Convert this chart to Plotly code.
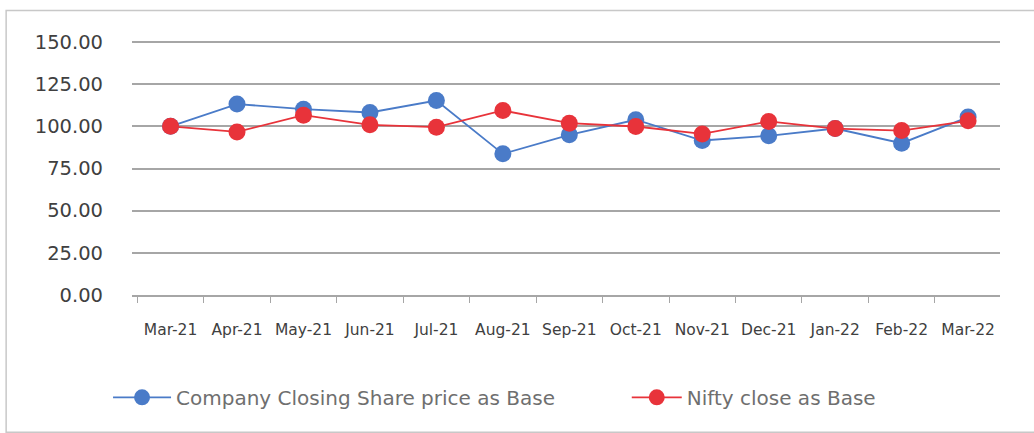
import plotly.graph_objects as go

months = ["Mar-21", "Apr-21", "May-21", "Jun-21", "Jul-21", "Aug-21", "Sep-21",
          "Oct-21", "Nov-21", "Dec-21", "Jan-22", "Feb-22", "Mar-22"]
company = [100.0, 113.2, 110.2, 108.2, 115.3, 83.7, 95.0, 103.9, 91.6, 94.4, 98.7, 90.0, 105.5]
nifty = [100.0, 96.7, 106.6, 100.9, 99.5, 109.4, 101.9, 99.9, 95.5, 102.9, 98.7, 97.5, 103.3]
y_ticks = [0, 25, 50, 75, 100, 125, 150]

BLUE = "#4a7bc8"
RED = "#e8333a"
FONT = "'DejaVu Sans', sans-serif"

fig = go.Figure()
fig.add_trace(go.Scatter(x=months, y=company, mode="lines+markers",
                         name="Company Closing Share price as Base",
                         line=dict(color=BLUE, width=1.8),
                         marker=dict(color=BLUE, size=17), legend="legend"))
fig.add_trace(go.Scatter(x=months, y=nifty, mode="lines+markers",
                         name="Nifty close as Base",
                         line=dict(color=RED, width=1.8),
                         marker=dict(color=RED, size=17), legend="legend2"))

legend_common = dict(orientation="h", xanchor="left", y=-0.403, yanchor="middle",
                     font=dict(size=20, color="#6f6f6f"),
                     bgcolor="rgba(0,0,0,0)", borderwidth=0)

fig.update_layout(
    width=1034, height=433,
    margin=dict(l=132, r=34, t=41, b=138),
    paper_bgcolor="white", plot_bgcolor="white",
    font=dict(family=FONT, color="#404040"),
    showlegend=True,
    legend=dict(x=-0.0276, itemwidth=58, **legend_common),
    legend2=dict(x=0.570, itemwidth=50, **legend_common),
    shapes=[dict(type="rect", xref="paper", yref="paper",
                 x0=-0.145, x1=1.04, y0=-0.54, y1=1.12,
                 line=dict(color="#c8c8c8", width=1.5), layer="below")],
)
fig.update_yaxes(range=[0, 150.6], tickvals=y_ticks, tickformat=".2f",
                 showgrid=True, gridcolor="#a6a6a6", gridwidth=1.5,
                 zeroline=False, showline=False, ticks="", automargin=False,
                 ticklabelstandoff=28, tickfont=dict(size=19.5, color="#404040"))
fig.update_xaxes(type="category", range=[-0.58, 12.48], showgrid=False, showline=True,
                 linecolor="#a6a6a6", linewidth=1.5, automargin=False,
                 ticks="outside", tickson="boundaries", ticklen=6,
                 tickcolor="#a6a6a6", tickwidth=1.2, tickangle=0,
                 ticklabelstandoff=20, tickfont=dict(size=15.5, color="#404040"))

fig.write_html("out.html", config={"displayModeBar": False},
               post_script="document.body.style.margin='0';")
